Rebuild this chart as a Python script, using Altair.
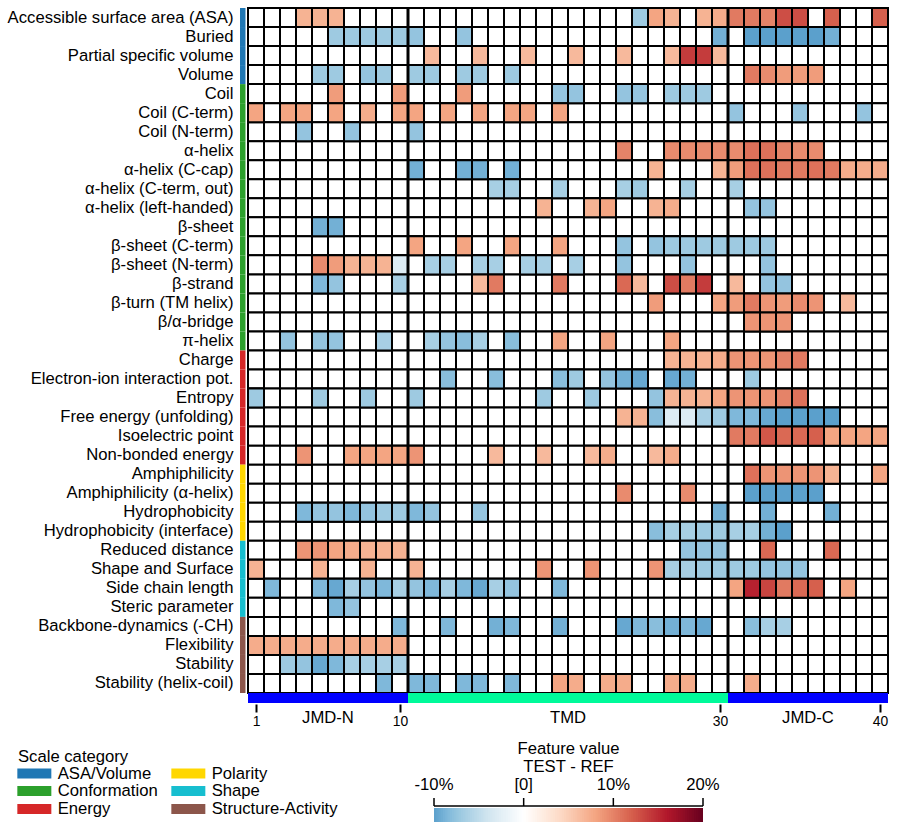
import altair as alt
import numpy as np
import pandas as pd

FONT = "Liberation Sans"
FS = 16.67   # 12 pt
FS_SMALL = 13.89  # 10 pt

# ---------------- data ----------------
features = [
    "Accessible surface area (ASA)", "Buried", "Partial specific volume", "Volume",
    "Coil", "Coil (C-term)", "Coil (N-term)", "α-helix", "α-helix (C-cap)",
    "α-helix (C-term, out)", "α-helix (left-handed)", "β-sheet", "β-sheet (C-term)",
    "β-sheet (N-term)", "β-strand", "β-turn (TM helix)", "β/α-bridge", "π-helix",
    "Charge", "Electron-ion interaction pot.", "Entropy", "Free energy (unfolding)",
    "Isoelectric point", "Non-bonded energy",
    "Amphiphilicity", "Amphiphilicity (α-helix)", "Hydrophobicity", "Hydrophobicity (interface)",
    "Reduced distance", "Shape and Surface", "Side chain length", "Steric parameter",
    "Backbone-dynamics (-CH)", "Flexibility", "Stability", "Stability (helix-coil)",
]

category_names = ["ASA/Volume", "Conformation", "Energy", "Polarity", "Shape", "Structure-Activity"]
category_sizes = [4, 14, 6, 4, 4, 4]
category_colors = ["#1f77b4", "#2ca02c", "#d62728", "#ffd700", "#17becf", "#8c564b"]

# feature values (TEST - REF, %) per position 1..40; missing positions = 0
asa_volume_values = [
    {4: 7, 5: 7, 6: 7, 25: -7, 26: 8, 27: 7, 29: 7, 30: 7.5, 31: 10.5, 32: 10.5, 33: 10, 34: 13, 35: 13, 37: 12, 40: 12},
    {6: -7, 7: -7, 8: -7, 9: -7, 10: -7, 11: -7.5, 14: -7.5, 30: -9, 32: -10, 33: -10, 34: -10, 35: -10, 36: -10, 37: -9},
    {12: 6.5, 15: 6.5, 18: 6.5, 21: 6.5, 24: 6.5, 27: 6.5, 28: 14, 29: 14, 30: 6.5},
    {5: -7, 6: -7, 8: -7.5, 9: -7, 11: -7, 12: -7, 14: -7, 15: -7, 17: -7, 32: 10.5, 33: 9.5, 34: 8.5, 35: 8.5, 36: 8.5},
]
conformation_values = [
    {6: 8.5, 10: 8.5, 14: 8.5, 20: -7.5, 21: -7.5, 24: -7.5, 25: -7.5, 27: -7, 28: -7, 29: -7},
    {1: 8, 3: 8, 4: 8, 6: 8, 8: 7.5, 10: 8, 11: 8, 13: 8, 15: 8, 17: 8, 18: 8, 20: 8, 31: -7.5, 35: -7.5, 39: -7.5},
    {4: -7.5, 7: -7.5, 11: -7.5},
    {24: 10, 27: 9.5, 28: 9.5, 29: 9.5, 30: 9.5, 31: 9.5, 32: 11, 33: 11, 34: 10, 35: 9.5, 36: 9.5},
    {11: -9, 14: -9, 15: -9, 17: -9, 26: 7, 30: 7, 31: 8.5, 32: 11, 33: 11, 34: 10.5, 35: 10.5, 36: 11, 37: 10.5, 38: 7.5, 39: 7.5, 40: 7.5},
    {16: -6.5, 17: -6.5, 20: -6.5, 24: -6.5, 25: -7, 28: -6.5, 31: -6.5},
    {19: 7, 22: 7, 23: 8, 26: 7, 27: 7.5, 32: -7.5, 33: -7.5},
    {5: -9, 6: -9},
    {11: 8, 14: 8, 17: 8, 20: 8, 24: -7.5, 26: -7.5, 27: -7, 28: -7, 29: -7, 30: -7, 31: -7, 32: -7, 33: -7},
    {5: 9.5, 6: 8.5, 7: 7, 8: 7, 9: 7, 10: -3, 12: -6.5, 13: -6.5, 15: -6.5, 16: -6.5, 18: -6.5, 19: -6.5, 21: -6.5, 24: -7.5, 28: -7.5, 33: -7.5},
    {5: -8.5, 6: -7.5, 10: -6.5, 15: 6.5, 16: 10.5, 20: 10.5, 24: 11.5, 25: 6.5, 27: 13, 28: 10.5, 29: 14, 31: 6.5, 33: -7.5, 34: -7.5},
    {26: 8.5, 30: 8, 31: 8.5, 32: 10.5, 33: 9, 34: 8.5, 35: 9.5, 36: 9, 38: 6.5},
    {32: 9, 33: 9, 34: 9},
    {3: -7.5, 5: -7.5, 6: -7.5, 9: -6.5, 12: -6.5, 13: -7.5, 14: -8, 15: -6.5, 17: -8, 20: 8, 23: 8, 27: 8},
]
energy_values = [
    {27: 7, 28: 7, 29: 7, 30: 7.5, 31: 9, 32: 9, 33: 9, 34: 10, 35: 10.5},
    {13: -8, 16: -8, 20: -8, 21: -7, 23: -7.5, 24: -9, 25: -9.5, 27: -9.5, 28: -9, 32: -7},
    {1: -7, 5: -7, 8: -7, 11: -7, 19: -7, 22: -7, 26: -7.5, 27: 7, 28: 7, 29: 7, 30: 8, 31: 9, 32: 9, 33: 9, 34: 10, 35: 11},
    {24: 7, 25: 7, 26: -8, 27: -3, 28: -3, 29: -6.5, 30: -7, 31: -8.5, 32: -8.5, 33: -9.5, 34: -10, 35: -10, 36: -10, 37: -10},
    {31: 10.5, 32: 10.5, 33: 12.5, 34: 11.5, 35: 11.5, 36: 12, 37: 8, 38: 8, 39: 8, 40: 8},
    {4: 9, 7: 8, 8: 8, 9: 8, 10: 8, 11: 9, 16: 6.5, 19: 6.5, 22: 6.5, 23: 7.5, 26: 6.5, 27: 7.5},
]
polarity_values = [
    {32: 11, 33: 9, 34: 9, 35: 9, 36: 9, 37: 7, 40: 8},
    {24: 9.5, 28: 9.5, 32: -10, 33: -10, 34: -10, 35: -10, 36: -10},
    {4: -8.5, 5: -7.5, 6: -7.5, 7: -8.5, 8: -7.5, 9: -7, 10: -7, 11: -8.5, 12: -7.5, 15: -7.5, 30: -9, 33: -9, 37: -9},
    {26: -8, 27: -6.5, 28: -6.5, 29: -7, 30: -7, 31: -6.5, 32: -6.5, 33: -9, 34: -10},
]
shape_values = [
    {4: 9, 5: 9, 6: 8, 7: 7.5, 8: 7, 9: 7, 10: 7, 28: -7.5, 29: -7.5, 30: -7.5, 33: 11.5, 37: 11.5},
    {1: 7, 5: 7, 8: 7, 11: 7, 19: 9, 22: 9, 26: 9, 27: -6.5, 28: -6.5, 29: -7, 30: -7, 31: -7, 32: -7, 33: -7.5, 34: -7.5, 35: -7.5},
    {2: -8.5, 5: -8.5, 6: -9.5, 7: -6.5, 8: -7.5, 9: -8.5, 10: -6.5, 11: -7.5, 12: -8.5, 13: -6.5, 14: -8.5, 15: -9.5,
     16: -6.5, 17: -7.5, 20: -8.5, 31: 8, 32: 15.5, 33: 13.5, 34: 10.5, 35: 11.5, 36: 12, 38: 8},
    {6: -8.5, 7: -7.5},
]
structure_values = [
    {10: -8.5, 13: -8.5, 16: -9, 17: -8.5, 20: -9, 24: -9.5, 25: -8.5, 26: -8, 27: -9, 28: -8.5, 29: -9.5, 32: -8, 33: -6.5, 34: -6.5},
    {1: 7.5, 2: 7.5, 3: 7.5, 4: 7.5, 5: 7.5, 6: 7.5, 7: 7.5, 8: 7.5, 9: 7.5, 10: 7.5},
    {3: -7, 4: -7.5, 5: -9.5, 6: -8.5, 7: -6.5, 8: -6.5, 9: -6.5, 10: -6.5},
    {9: -8.5, 11: -8.5, 12: -8.5, 14: -8.5, 15: -8.5, 17: -8.5, 20: 8, 21: 7.5, 23: 7.5, 24: 7.5, 27: 7.5, 28: 7.5, 32: 7.5},
]

positions = list(range(1, 41))
tick_positions = [1, 10, 30, 40]

region_names = ["JMD-N", "TMD", "JMD-C"]
region_start = [1, 11, 31]
region_end = [10, 30, 40]

cbar_ticks = [-10, 0, 10, 20]
cbar_labels = ["-10%", "[0]", "10%", "20%"]

color_stops = [-10, -8.5, -7, -4, 0, 4, 8, 12, 16, 20]
color_range = ["#5ba0cc", "#7fb8da", "#9ecae1", "#d1e5f0", "#ffffff",
               "#fddbc7", "#f4a582", "#d6604d", "#b2182b", "#67001f"]

# ---------------- tables ----------------
all_rows = asa_volume_values + conformation_values + energy_values + polarity_values + shape_values + structure_values
row_categories = [c for c, n in zip(category_names, category_sizes) for _ in range(n)]

records = []
for f, vals in zip(features, all_rows):
    for p in positions:
        records.append({"feature": f, "pos": p, "x0": p - 0.5, "x1": p + 0.5, "value": float(vals.get(p, 0))})
heat_df = pd.DataFrame(records)

cat_df = pd.DataFrame({"feature": features, "category": row_categories})

region_df = pd.DataFrame({
    "name": region_names,
    "x0": [s - 0.5 for s in region_start],
    "x1": [e + 0.5 for e in region_end],
    "center": [(s + e) / 2 for s, e in zip(region_start, region_end)],
    "kind": ["JMD" if n.startswith("JMD") else "TMD" for n in region_names],
})
boundary_df = pd.DataFrame({"b": [e + 0.5 for e in region_end[:-1]]})

cb_step = 0.25
cb_v = np.arange(min(cbar_ticks), max(cbar_ticks), cb_step)
cb_df = pd.DataFrame({
    "v0": cb_v,
    "v1": np.minimum(cb_v + cb_step * 1.4, max(cbar_ticks)),
    "v": cb_v + cb_step / 2,
})
cb_tick_df = pd.DataFrame({"t": cbar_ticks, "label": cbar_labels})
cb_line_df = pd.DataFrame({"a": [min(cbar_ticks)], "b": [max(cbar_ticks)],
                           "mid": [(min(cbar_ticks) + max(cbar_ticks)) / 2]})

# ---------------- scales ----------------
color_scale = alt.Scale(domain=color_stops, range=color_range, clamp=True, interpolate="rgb")
x_scale = alt.Scale(domain=[0.5, 40.5], nice=False, zero=False)
y_enc = alt.Y("feature:N", sort=features, scale=alt.Scale(paddingInner=0, paddingOuter=0),
              axis=alt.Axis(title=None, domain=False, ticks=False, tickSize=0, labelPadding=15,
                            labelFontSize=FS, labelColor="black", labelFont=FONT, labelLimit=400))

# ---------------- main layers ----------------
grid = alt.Chart(heat_df).mark_rect(fill="white", stroke="black", strokeWidth=2).encode(
    x=alt.X("x0:Q", scale=x_scale,
            axis=alt.Axis(values=tick_positions, title=None, domain=False, grid=False, tickSize=8,
                          tickWidth=2, tickColor="black", offset=11, labelFontSize=FS_SMALL, labelPadding=2,
                          labelColor="black", labelFont=FONT, labelFlush=False, format="d")),
    x2="x1:Q",
    y=y_enc,
)

heat = alt.Chart(heat_df).transform_filter(alt.datum.value != 0).mark_rect(
    stroke="black", strokeWidth=2).encode(
    x=alt.X("x0:Q", scale=x_scale),
    x2="x1:Q",
    y=alt.Y("feature:N", sort=features),
    color=alt.Color("value:Q", scale=color_scale, legend=None),
)

boundaries = alt.Chart(boundary_df).mark_rule(color="black", strokeWidth=3).encode(
    x=alt.X("b:Q", scale=x_scale)
)

catbar = alt.Chart(cat_df).mark_rect().encode(
    x=alt.value(-8), x2=alt.value(-2.5),
    y=alt.Y("feature:N", sort=features),
    fill=alt.Fill("category:N", scale=alt.Scale(domain=category_names, range=category_colors),
                  legend=alt.Legend(orient="none", legendX=-230, legendY=741, columns=2,
                                    title="Scale category", titleFontSize=FS, titleFontWeight="normal",
                                    titleColor="black", titleFont=FONT, titlePadding=-1,
                                    labelFontSize=FS, labelColor="black", labelFont=FONT,
                                    symbolType="M-3.4,-1H3.4V1H-3.4Z", symbolSize=100,
                                    symbolStrokeWidth=0, symbolOpacity=1, symbolOffset=8,
                                    labelOffset=15, columnPadding=13, rowPadding=-3, padding=0)),
)

jmd_bar = alt.Chart(region_df).transform_filter(alt.datum.kind == "JMD").mark_rect(color="#0000ff").encode(
    x=alt.X("x0:Q", scale=x_scale), x2="x1:Q", y=alt.value(685), y2=alt.value(695)
)
tmd_bar = alt.Chart(region_df).transform_filter(alt.datum.kind == "TMD").mark_rect(color="#00fa9a").encode(
    x=alt.X("x0:Q", scale=x_scale), x2="x1:Q", y=alt.value(685), y2=alt.value(695)
)
region_text = alt.Chart(region_df).mark_text(fontSize=FS, font=FONT, color="black", baseline="middle").encode(
    x=alt.X("center:Q", scale=x_scale), y=alt.value(710), text="name:N"
)

main = alt.layer(grid, heat, boundaries, catbar, jmd_bar, tmd_bar, region_text)

# ---------------- colour bar ----------------
cb_x = alt.Scale(domain=[min(cbar_ticks), max(cbar_ticks)], range=[186, 455], nice=False, zero=False)
cb_rect = alt.Chart(cb_df).mark_rect().encode(
    x=alt.X("v0:Q", scale=cb_x, axis=None), x2="v1:Q",
    y=alt.value(800), y2=alt.value(814),
    color=alt.Color("v:Q", scale=color_scale, legend=None),
)
cb_line = alt.Chart(cb_line_df).mark_rule(color="black", strokeWidth=1.5).encode(
    x=alt.X("a:Q", scale=cb_x, axis=None), x2="b:Q", y=alt.value(798)
)
cb_tick = alt.Chart(cb_tick_df).mark_rule(color="black", strokeWidth=1.5).encode(
    x=alt.X("t:Q", scale=cb_x, axis=None), y=alt.value(790), y2=alt.value(798)
)
cb_label = alt.Chart(cb_tick_df).mark_text(fontSize=FS, font=FONT, color="black", baseline="middle").encode(
    x=alt.X("t:Q", scale=cb_x, axis=None), y=alt.value(777), text="label:N"
)
cb_title1 = alt.Chart(cb_line_df).mark_text(fontSize=FS, font=FONT, color="black", baseline="middle",
                                             text="Feature value").encode(
    x=alt.X("mid:Q", scale=cb_x, axis=None), y=alt.value(741)
)
cb_title2 = alt.Chart(cb_line_df).mark_text(fontSize=FS, font=FONT, color="black", baseline="middle",
                                             text="TEST - REF").encode(
    x=alt.X("mid:Q", scale=cb_x, axis=None), y=alt.value(759)
)
cbar = alt.layer(cb_rect, cb_line, cb_tick, cb_label, cb_title1, cb_title2)

chart = alt.layer(main, cbar).resolve_scale(x="independent").properties(
    width=640, height=685,
    autosize=alt.AutoSizeParams(type="none"),
    padding={"left": 248, "top": 8, "right": 10, "bottom": 139},
    background="white",
).configure_view(stroke=None).configure(font=FONT)

chart.save("out.html", embed_options={"renderer": "svg", "actions": False})
